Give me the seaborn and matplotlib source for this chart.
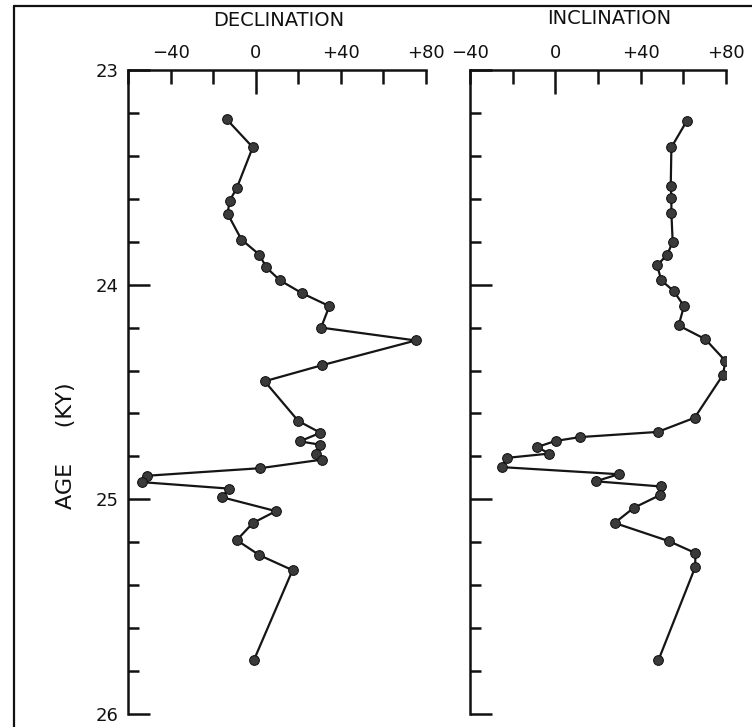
import numpy as np
import matplotlib
matplotlib.use("Agg")
import matplotlib.pyplot as plt
from matplotlib.lines import Line2D
import seaborn as sns

# Idade (ky) e declinação
dec_age = [23.23, 23.36, 23.55, 23.61, 23.67, 23.79, 23.86, 23.92, 23.98, 24.04,
           24.10, 24.20, 24.26, 24.375, 24.45, 24.635, 24.69, 24.73, 24.745, 24.79,
           24.815, 24.855, 24.89, 24.92, 24.95, 24.99, 25.055, 25.11, 25.19, 25.26,
           25.33, 25.75]
dec = [-13.6, -1.4, -8.9, -12.3, -13.2, -6.7, 1.7, 5.0, 11.4, 21.8,
       34.6, 30.7, 75.2, 31.2, 4.2, 20.0, 30.4, 20.7, 30.0, 28.5,
       31.2, 2.0, -50.9, -53.3, -12.6, -15.9, 9.5, -1.3, -8.9, 1.7,
       17.3, -0.9]

# Idade e inclinação
inc_age = [23.236, 23.36, 23.54, 23.595, 23.665, 23.80, 23.86, 23.91, 23.98, 24.03,
           24.10, 24.19, 24.254, 24.355, 24.42, 24.62, 24.686, 24.71, 24.728, 24.756,
           24.787, 24.807, 24.85, 24.883, 24.916, 24.94, 24.98, 25.04, 25.11, 25.195,
           25.25, 25.315, 25.75]
inc = [61.7, 54.4, 54.1, 54.4, 54.4, 55.0, 52.5, 47.7, 49.7, 55.5,
       60.3, 57.8, 70.3, 79.7, 78.6, 65.3, 48.0, 11.6, 0.1, -8.4,
       -3.0, -22.8, -25.0, 29.7, 18.9, 49.4, 49.1, 36.7, 27.8, 53.3,
       65.6, 65.6, 48.3]

xtick_vals = [-40, 0, 40, 80]
xtick_labels = ["\u221240", "0", "+40", "+80"]
ytick_vals = [23, 24, 25, 26]

sns.set_style("white")
plt.rcParams['font.family'] = ['DejaVu Sans']
plt.rcParams['text.color'] = '#111111'

W, H = 752, 727
fig = plt.figure(figsize=(W / 100, H / 100), dpi=100)

def px_axes(x0, x1, y0, y1):
    return fig.add_axes([x0 / W, 1 - y1 / H, (x1 - x0) / W, (y1 - y0) / H])

ax1 = px_axes(128, 426, 70, 714)
ax2 = px_axes(470, 726, 70, 714)

style = dict(color='#151515', marker='o', markersize=7, linewidth=1.6,
             markerfacecolor='#3a3a3a', markeredgecolor='#111111',
             sort=False, estimator=None, legend=False)
sns.lineplot(x=dec, y=dec_age, ax=ax1, **style)
sns.lineplot(x=inc, y=inc_age, ax=ax2, **style)

for ax, xmin, show_y in [(ax1, -60, True), (ax2, -40, False)]:
    ax.set_xlim(xmin, 80)
    ax.set_ylim(26, 23)
    ax.set_xlabel("")
    ax.set_ylabel("")
    for s in ['right', 'bottom']:
        ax.spines[s].set_visible(False)
    for s in ['left', 'top']:
        ax.spines[s].set_linewidth(1.8)
        ax.spines[s].set_color('#111111')
    ax.xaxis.tick_top()
    ax.set_xticks(xtick_vals)
    ax.set_xticklabels(xtick_labels)
    ax.set_xticks(np.arange(xmin, 81, 20), minor=True)
    ax.set_yticks(ytick_vals)
    ax.set_yticks(np.arange(23, 26.01, 0.2), minor=True)
    if show_y:
        ax.set_yticklabels([str(v) for v in ytick_vals])
    else:
        ax.set_yticklabels([])
    ax.tick_params(axis='x', which='both', direction='in', length=10, width=1.8,
                   color='#111111', labelcolor='#111111', labelsize=13, pad=6,
                   top=True, bottom=False)
    ax.tick_params(axis='y', which='major', direction='in', length=16, width=1.8,
                   color='#111111', labelcolor='#111111', labelsize=13, pad=7,
                   left=True, right=False)
    ax.tick_params(axis='y', which='minor', direction='in', length=8, width=1.8,
                   color='#111111', left=True, right=False)
    # marca do zero mais longa
    ax.xaxis.get_major_ticks()[1].tick2line.set_markersize(17)

fig.text(279 / W, 1 - 20 / H, "DECLINATION", ha='center', va='center', fontsize=14)
fig.text(609 / W, 1 - 19 / H, "INCLINATION", ha='center', va='center', fontsize=14)
fig.text(66 / W, 1 - 446 / H, "AGE     (KY)", rotation=90, ha='center', va='center',
         fontsize=16)

# moldura
fig.add_artist(Line2D([14 / W, 14 / W], [0, 1 - 6 / H], transform=fig.transFigure,
                      color='#111111', linewidth=1.6))
fig.add_artist(Line2D([14 / W, 1], [1 - 6 / H, 1 - 6 / H], transform=fig.transFigure,
                      color='#111111', linewidth=1.6))

fig.savefig("out.png", dpi=100)
